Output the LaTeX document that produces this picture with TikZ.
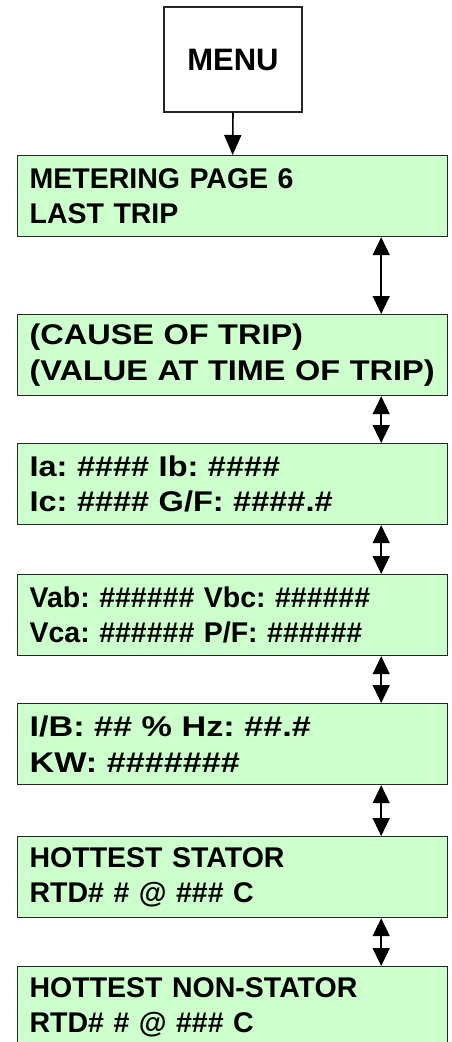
\documentclass[tikz,border=0pt]{standalone}
\usepackage{fontspec}
\setmainfont{Liberation Sans}
\newfontfamily\widesans[FakeStretch=1.14]{Liberation Sans}
\newfontfamily\widersans[FakeStretch=1.2]{Liberation Sans}
\usepackage{xcolor}
\usepackage{tikz}
\usetikzlibrary{
	arrows.meta,
	calc,
	positioning
}
\definecolor{pagegreen}{HTML}{CCFFCC}
\frenchspacing

\begin{document}
\begin{tikzpicture}[x=1pt, y=-1pt,
		pagebox/.style={draw=black!85, line width=1.2pt, fill=pagegreen, rectangle, anchor=north west,
			minimum width=430pt, minimum height=81pt, text width=406pt, inner xsep=12pt, align=left,
			font=\fontsize{28.5}{35.5}\selectfont\bfseries},
		widebox/.style={pagebox, font=\fontsize{28.5}{35.5}\widesans\bfseries},
		widerbox/.style={pagebox, font=\fontsize{28.5}{35.5}\widersans\bfseries},
		menubox/.style={draw=black!85, line width=1.2pt, fill=white, rectangle,
			minimum width=138pt, minimum height=105pt, font=\fontsize{31}{36}\selectfont\bfseries},
		onearrow/.style={-{Triangle[length=20pt, width=17pt]}, line width=1.6pt},
		twoarrow/.style={{Triangle[length=18pt, width=17pt]}-{Triangle[length=18pt, width=17pt]}, line width=1.6pt}]
		\useasboundingbox (0,0) rectangle (451,1042);
		
		% menu
		\node[menubox] (menu) at (233,59.5) {MENU};
		
		% pages
		\node[pagebox] (p1) at (17,155) {METERING PAGE 6\\LAST TRIP};
		\node[widebox] (p2) at (17,314) {(CAUSE OF TRIP)\\(VALUE AT TIME OF TRIP)};
		\node[widebox] (p3) at (17,443) {Ia: \#\#\#\# Ib: \#\#\#\#\\Ic: \#\#\#\# G/F: \#\#\#\#.\#};
		\node[pagebox] (p4) at (17,574) {Vab: \#\#\#\#\#\# Vbc: \#\#\#\#\#\#\\Vca: \#\#\#\#\#\# P/F: \#\#\#\#\#\#};
		\node[widerbox] (p5) at (17,703) {I/B: \#\# \% Hz: \#\#.\#\\KW: \#\#\#\#\#\#\#};
		\node[pagebox] (p6) at (17,836) {HOTTEST STATOR\\RTD\# \# @ \#\#\# C};
		\node[pagebox] (p7) at (17,966) {HOTTEST NON-STATOR\\RTD\# \# @ \#\#\# C};
		
		% arrows
		\draw[onearrow] (menu.south) -- (p1.north);
		\foreach \a/\b in {p1/p2, p2/p3, p3/p4, p4/p5, p5/p6, p6/p7}
			\draw[twoarrow] ([xshift=-67pt]\a.south east) -- ([xshift=-67pt]\b.north east);
	\end{tikzpicture}
\end{document}
